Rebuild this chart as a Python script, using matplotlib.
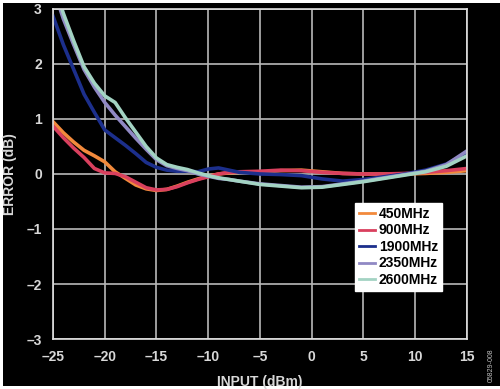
import matplotlib.pyplot as plt
from matplotlib.patches import Rectangle

# dane
input_dbm = [-25, -24, -23, -22, -21, -20, -19, -18, -17, -16, -15, -14, -13, -12, -11,
             -10, -9, -8, -7, -5, -3, -1, 1, 3, 5, 7, 9, 11, 13, 15]

err_450 = [0.95, 0.75, 0.58, 0.43, 0.33, 0.22, 0.04, -0.08, -0.20, -0.27, -0.30, -0.28, -0.22, -0.15, -0.09,
           -0.04, 0.00, 0.02, 0.03, 0.03, 0.06, 0.07, 0.04, 0.01, 0.00, 0.00, 0.00, 0.01, 0.03, 0.06]
err_900 = [0.87, 0.66, 0.47, 0.30, 0.10, 0.02, 0.01, -0.05, -0.15, -0.25, -0.29, -0.28, -0.23, -0.16, -0.10,
           -0.05, 0.00, 0.03, 0.04, 0.05, 0.07, 0.06, 0.03, 0.01, 0.00, 0.00, 0.01, 0.03, 0.06, 0.10]
err_1900 = [2.87, 2.35, 1.90, 1.45, 1.12, 0.80, 0.66, 0.52, 0.37, 0.21, 0.12, 0.07, 0.05, 0.05, 0.04,
            0.09, 0.11, 0.07, 0.03, 0.00, -0.01, -0.03, -0.09, -0.13, -0.10, -0.05, 0.00, 0.07, 0.18, 0.38]
err_2350 = [3.40, 2.82, 2.35, 1.90, 1.58, 1.30, 1.07, 0.86, 0.65, 0.45, 0.26, 0.15, 0.10, 0.06, 0.00,
            -0.04, -0.08, -0.10, -0.13, -0.18, -0.21, -0.24, -0.23, -0.18, -0.13, -0.07, -0.01, 0.05, 0.17, 0.42]
err_2600 = [3.50, 2.92, 2.42, 1.95, 1.65, 1.42, 1.30, 1.02, 0.76, 0.50, 0.29, 0.17, 0.12, 0.08, 0.02,
            -0.03, -0.07, -0.10, -0.13, -0.19, -0.22, -0.25, -0.24, -0.19, -0.14, -0.08, -0.02, 0.04, 0.14, 0.33]

x_ticks = [-25, -20, -15, -10, -5, 0, 5, 10, 15]
x_labels = ["\u201325", "\u201320", "\u201315", "\u201310", "\u20135", "0", "5", "10", "15"]
y_ticks = [-3, -2, -1, 0, 1, 2, 3]
y_labels = ["\u20133", "\u20132", "\u20131", "0", "1", "2", "3"]

plt.rcParams['font.family'] = ['Liberation Sans', 'DejaVu Sans']

fig = plt.figure(figsize=(5, 3.89), dpi=100)
fig.patch.set_facecolor("white")
# czarne tlo z cienka biala ramka
fig.patches.append(Rectangle((0.006, 0.008), 0.994, 0.984, transform=fig.transFigure,
                             facecolor="black", edgecolor="none", zorder=-1))

ax = fig.add_axes([0.106, 0.1285, 0.828, 0.8485])
ax.set_facecolor("black")

series = [
    (err_450, "#f28a3c", "450MHz"),
    (err_900, "#d9405e", "900MHz"),
    (err_1900, "#1c2f8c", "1900MHz"),
    (err_2350, "#9089c4", "2350MHz"),
    (err_2600, "#a3d3c3", "2600MHz"),
]
for vals, col, lab in series:
    ax.plot(input_dbm, vals, color=col, lw=2.6, label=lab, solid_joinstyle="round")

ax.set_xlim(-25, 15)
ax.set_ylim(-3, 3)
ax.set_xticks(x_ticks)
ax.set_xticklabels(x_labels)
ax.set_yticks(y_ticks)
ax.set_yticklabels(y_labels)
ax.grid(True, color="#b8b8b8", lw=1.2)
ax.set_axisbelow(True)
ax.tick_params(length=0, colors="#d8d8d8", labelsize=10, pad=8)
for lbl in ax.get_xticklabels() + ax.get_yticklabels():
    lbl.set_fontweight("bold")
for s in ax.spines.values():
    s.set_color("#e0e0e0")
    s.set_linewidth(1.2)

ax.set_xlabel("INPUT (dBm)", color="#d8d8d8", fontsize=10, fontweight="bold", labelpad=8)
ax.set_ylabel("ERROR (dB)", color="#d8d8d8", fontsize=10, fontweight="bold")
ax.yaxis.set_label_coords(-0.088, 0.5)

leg = ax.legend(loc="lower right", bbox_to_anchor=(0.94, 0.145), borderaxespad=0,
                frameon=True, fancybox=False,
                handlelength=1.1, handletextpad=0.3, borderpad=0.3, labelspacing=0.18,
                prop={"weight": "bold", "size": 10})
leg.get_frame().set_facecolor("white")
leg.get_frame().set_edgecolor("white")
leg.get_frame().set_alpha(1)
for h in leg.get_lines():
    h.set_linewidth(2.0)

fig.text(0.982, 0.06, "05829-008", rotation=90, color="#c0c0c0", fontsize=5,
         ha="center", va="center")

fig.savefig("out.png", dpi=100, facecolor=fig.get_facecolor())
